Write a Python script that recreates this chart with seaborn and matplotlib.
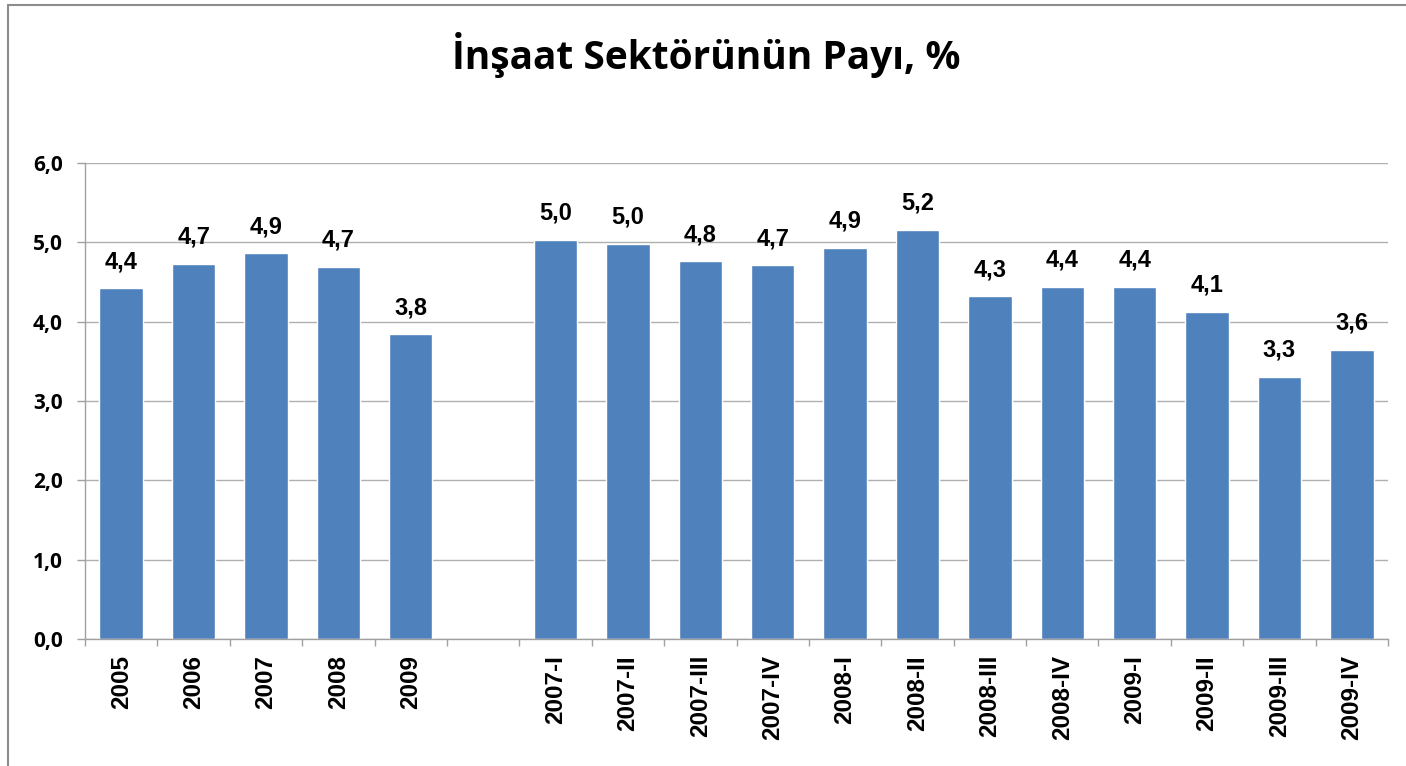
import matplotlib
matplotlib.use("Agg")
import matplotlib.pyplot as plt
from matplotlib.lines import Line2D
from matplotlib.ticker import FuncFormatter, FixedLocator
import numpy as np
import pandas as pd
import seaborn as sns

# data
annual = ['2005', '2006', '2007', '2008', '2009']
annual_vals = [4.42, 4.73, 4.86, 4.69, 3.84]
quarters = ['2007-I', '2007-II', '2007-III', '2007-IV',
            '2008-I', '2008-II', '2008-III', '2008-IV',
            '2009-I', '2009-II', '2009-III', '2009-IV']
quarter_vals = [5.03, 4.98, 4.76, 4.71, 4.93, 5.16, 4.32, 4.44, 4.44, 4.12, 3.30, 3.64]
gap = ' '  # empty slot between yearly and quarterly bars
order = annual + [gap] + quarters

title = 'İnşaat Sektörünün Payı, %'

df = pd.DataFrame({'donem': annual + quarters, 'pay': annual_vals + quarter_vals})

sns.set_theme(style='white')
plt.rcParams['font.family'] = ['Liberation Sans', 'DejaVu Sans']
plt.rcParams['text.color'] = 'black'
plt.rcParams['xtick.labelcolor'] = 'black'
plt.rcParams['ytick.labelcolor'] = 'black'

bar_color = '#4F81BD'
grid_color = '#b0b0b0'
axis_color = '#a0a0a0'

fig = plt.figure(figsize=(14.06, 7.66), dpi=100)
ax = fig.add_axes([85 / 1406, 1 - 639 / 766, (1388 - 85) / 1406, (639 - 163) / 766])

sns.barplot(data=df, x='donem', y='pay', order=order, color=bar_color,
            width=0.6, saturation=1, ax=ax, errorbar=None)

ax.set_ylim(0, 6)
ax.set_xlim(-0.5, len(order) - 0.5)
ax.set_yticks(np.arange(0, 7, 1))
ax.yaxis.set_major_formatter(FuncFormatter(lambda v, p: f'{v:.1f}'.replace('.', ',')))
ax.grid(axis='y', color=grid_color, lw=1)
ax.set_axisbelow(True)
ax.set_xlabel('')
ax.set_ylabel('')

for side in ['top', 'right']:
    ax.spines[side].set_visible(False)
for side in ['left', 'bottom']:
    ax.spines[side].set_color(axis_color)
    ax.spines[side].set_linewidth(1)

# category labels, ticks between categories
ax.set_xticks(range(len(order)))
ax.set_xticklabels(order, rotation=90, fontsize=17.5, fontweight='bold',
                   family=['Liberation Sans', 'DejaVu Sans'], color='black')
ax.tick_params(axis='x', which='major', length=0, pad=11.5)
ax.xaxis.set_minor_locator(FixedLocator(np.arange(-0.5, len(order), 1)))
ax.tick_params(axis='x', which='minor', length=5, width=1, color=axis_color,
               direction='out', bottom=True)
ax.tick_params(axis='y', which='major', length=6, width=1, color=axis_color,
               direction='out', left=True, pad=10)
for lab in ax.get_yticklabels():
    lab.set_fontsize(15)
    lab.set_fontweight('bold')
    lab.set_color('black')
    lab.set_family(['Open Sans', 'DejaVu Sans'])

for cont in ax.containers:
    ax.bar_label(cont, fmt=lambda v: f'{v:.1f}'.replace('.', ','), padding=11,
                 fontsize=17, fontweight='bold', color='black')

fig.text(0.502, 1 - 55 / 766, title, ha='center', va='center', fontsize=28,
         fontweight='bold', color='black', family=['Open Sans', 'DejaVu Sans'])

# chart area border (top and left visible in the reference)
fig.add_artist(Line2D([8 / 1406, 8 / 1406], [0, 1 - 5 / 766], transform=fig.transFigure,
                      color='#8c8c8c', lw=1.5))
fig.add_artist(Line2D([8 / 1406, 1], [1 - 5 / 766, 1 - 5 / 766], transform=fig.transFigure,
                      color='#8c8c8c', lw=1.5))

fig.savefig('out.png', dpi=100)
